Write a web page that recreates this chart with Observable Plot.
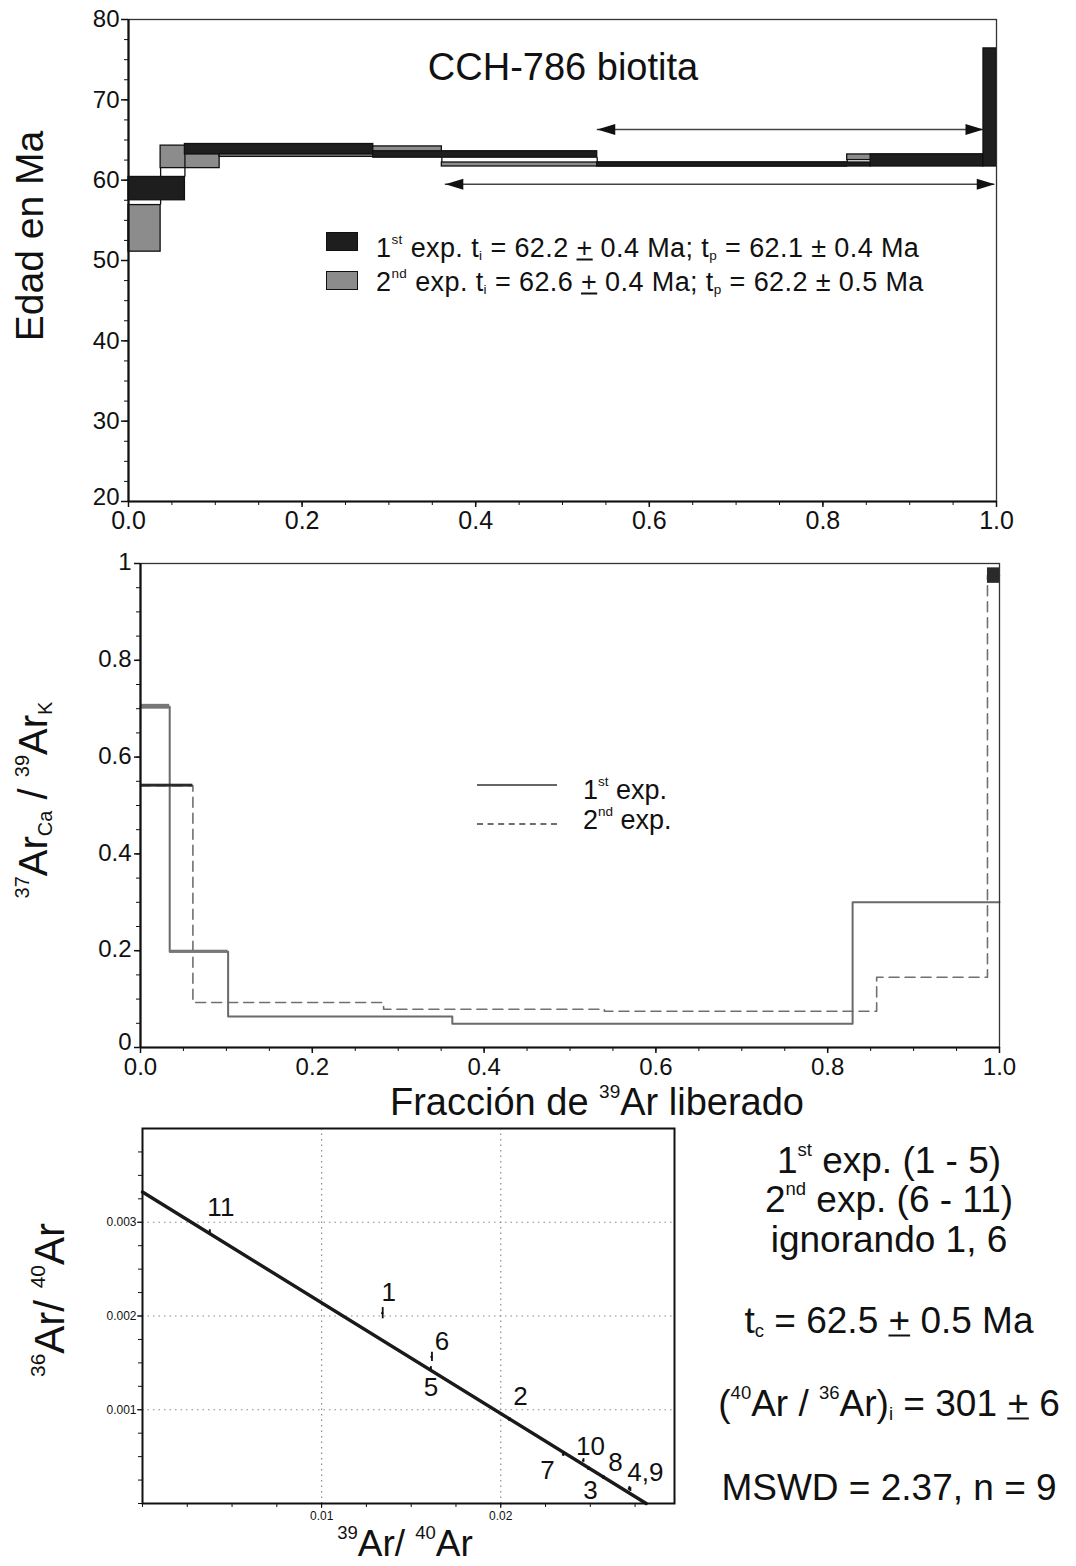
<!DOCTYPE html>
<html>
<head>
<meta charset="utf-8">
<script src="https://cdn.jsdelivr.net/npm/d3@7"></script>
<script src="https://cdn.jsdelivr.net/npm/@observablehq/plot@0.6"></script>
<style>
  html, body { margin: 0; padding: 0; background: #fff; }
  #page { position: relative; width: 1076px; height: 1566px; overflow: hidden;
          font-family: 'Liberation Sans', Arial, Helvetica, sans-serif; color: #111; }
  .abs { position: absolute; white-space: nowrap; line-height: 1; }
  .abs sup { font-size: 0.5em; vertical-align: 0.9em; line-height: 0; }
  .abs sub { font-size: 0.5em; vertical-align: -0.25em; line-height: 0; }
  .abs u { text-decoration-thickness: 2px; text-underline-offset: 2px; }
</style>
</head>
<body>
<div id="page"></div>
<script>
// ===================== DATA =====================
// Age spectrum, 1st experiment (black boxes): step start / end fraction, 2-sigma age range (Ma)
const ageExp1X0 = [0.000, 0.065, 0.282, 0.540, 0.855, 0.985];
const ageExp1X1 = [0.065, 0.282, 0.540, 0.855, 0.985, 1.000];
const ageExp1Lo = [57.5, 63.2, 62.8, 61.7, 61.7, 61.7];
const ageExp1Hi = [60.4, 64.5, 63.6, 62.2, 63.2, 76.4];
// Age spectrum, 2nd experiment (grey boxes)
const ageExp2X0 = [0.000, 0.037, 0.105, 0.361, 0.828];
const ageExp2X1 = [0.037, 0.105, 0.361, 0.828, 1.000];
const ageExp2Lo = [51.1, 61.5, 62.9, 61.7, 62.5];
const ageExp2Hi = [56.9, 64.3, 64.2, 62.2, 63.2];
// Plateau arrows (fraction range, age level)
const plateauX1 = [0.540, 0.365];
const plateauX2 = [0.985, 0.998];
const plateauAge = [66.3, 59.5];

// 37ArCa/39ArK spectra: step start fractions, value, error (steps end at next start / 1.0)
const caExp1X = [0.000, 0.034, 0.102, 0.363, 0.829];
const caExp1V = [0.704, 0.198, 0.064, 0.049, 0.300];
const caExp1E = [0.005, 0.003, 0.001, 0.001, 0.001];
const caExp2X = [0.000, 0.061, 0.283, 0.540, 0.857, 0.986];
const caExp2V = [0.541, 0.093, 0.079, 0.075, 0.145, 0.975];
const caExp2E = [0.003, 0.001, 0.001, 0.001, 0.001, 0.016];

// Inverse isochron points (39Ar/40Ar, 36Ar/40Ar)
const isoStep  = [1, 2, 3, 4, 5, 6, 7, 8, 9, 10, 11];
const isoX     = [0.01341, 0.02049, 0.02490, 0.02724, 0.01610, 0.01616, 0.02350, 0.02574, 0.02718, 0.02462, 0.00376];
const isoY     = [0.002030, 0.000896, 0.000373, 0.000149, 0.001440, 0.001564, 0.000523, 0.000277, 0.000160, 0.000459, 0.002900];
const isoXErr  = [0.00006, 0.00006, 0.00006, 0.00006, 0.00006, 0.00006, 0.00006, 0.00006, 0.00006, 0.00006, 0.00006];
const isoYErr  = [0.00006, 0.00002, 0.00002, 0.00002, 0.00002, 0.00005, 0.00002, 0.00002, 0.00002, 0.00002, 0.00002];
const isoLabel = ["1", "2", "3", "4,9", "5", "6", "7", "8", "", "10", "11"];
const isoLabelDx = [6, 11, 2, 15, 0, 10, -16, 12, 0, 7, 11];
const isoLabelDy = [-21, -23, 22, -17, 19, -15, 16, -15, 0, -14, -24];
// Fit: (40Ar/36Ar)i = 301 -> y intercept 1/301 ; x intercept (39Ar/40Ar)
const isoRatioInitial = 301;
const isoXIntercept = 0.02812;

// Tick labels
const ageTicksY = [30, 40, 50, 60, 70, 80];
const ageTickYMin = [20];
const fracTicks = [0.0, 0.2, 0.4, 0.6, 0.8, 1.0];
const caTicksY = [0.2, 0.4, 0.6, 0.8, 1];
const caTickYMin = [0];
const isoTicksX = [0.01, 0.02];
const isoTicksY = [0.001, 0.002, 0.003];

// Text
const sampleTitle = "CCH-786 biotita";
const ageLegend = [
  "1<sup>st</sup> exp. t<sub>i</sub> = 62.2 <u>+</u> 0.4 Ma; t<sub>p</sub> = 62.1 ± 0.4 Ma",
  "2<sup>nd</sup> exp. t<sub>i</sub> = 62.6 <u>+</u> 0.4 Ma; t<sub>p</sub> = 62.2 ± 0.5 Ma"
];
const caLegend = ["1<sup>st</sup> exp.", "2<sup>nd</sup> exp."];
const statsLines = [
  "1<sup>st</sup> exp. (1 - 5)",
  "2<sup>nd</sup> exp. (6 - 11)",
  "ignorando 1, 6",
  "t<sub>c</sub> = 62.5 <u>+</u> 0.5 Ma",
  "(<sup>40</sup>Ar / <sup>36</sup>Ar)<sub>i</sub> = 301 <u>+</u> 6",
  "MSWD = 2.37, n = 9"
];

// ===================== BUILD =====================
const FONT = "'Liberation Sans', Arial, Helvetica, sans-serif";
const page = document.getElementById("page");
const baseStyle = {fontFamily: FONT, fontSize: "23px", color: "#111", background: "transparent", overflow: "visible"};

function addPlot(svg, top) {
  svg.style.position = "absolute";
  svg.style.left = "0px";
  svg.style.top = top + "px";
  page.appendChild(svg);
}
function addText(html, x, y, size, opts = {}) {
  const d = document.createElement("div");
  d.className = "abs";
  d.innerHTML = html;
  d.style.left = x + "px";
  d.style.top = y + "px";
  d.style.fontSize = size + "px";
  if (opts.spacing) d.style.letterSpacing = opts.spacing + "px";
  const tx = opts.anchor === "start" ? "0" : "-50%";
  d.style.transform = `translate(${tx},-50%)` + (opts.rotate ? ` rotate(${opts.rotate}deg)` : "");
  page.appendChild(d);
  return d;
}
function addBox(x, y, w, h, css) {
  const d = document.createElement("div");
  d.style.position = "absolute";
  d.style.left = x + "px"; d.style.top = y + "px";
  d.style.width = w + "px"; d.style.height = h + "px";
  Object.assign(d.style, css);
  page.appendChild(d);
}

const rects = (x0, x1, lo, hi) => x0.map((a, i) => ({x0: a, x1: x1[i], lo: lo[i], hi: hi[i]}));
function gapConnectors(rs) {
  const out = [];
  for (let i = 0; i < rs.length - 1; i++) {
    const a = rs[i], b = rs[i + 1];
    if (a.hi < b.lo) out.push({x: a.x1, y1: a.hi, y2: b.lo});
    else if (b.hi < a.lo) out.push({x: a.x1, y1: b.hi, y2: a.lo});
  }
  return out;
}
const age1 = rects(ageExp1X0, ageExp1X1, ageExp1Lo, ageExp1Hi);
const age2 = rects(ageExp2X0, ageExp2X1, ageExp2Lo, ageExp2Hi);
const arrows = plateauX1.map((a, i) => ({x1: a, x2: plateauX2[i], age: plateauAge[i]}));
const headRight = {draw(ctx) { ctx.moveTo(0, 0); ctx.lineTo(-18, -5.5); ctx.lineTo(-18, 5.5); ctx.closePath(); }};
const headLeft  = {draw(ctx) { ctx.moveTo(0, 0); ctx.lineTo(18, -5.5); ctx.lineTo(18, 5.5); ctx.closePath(); }};

// ---------- Panel 1: age spectrum ----------
const p1 = Plot.plot({
  width: 1076, height: 545,
  marginLeft: 128, marginRight: 80, marginTop: 19, marginBottom: 44,
  x: {domain: [0, 1]},
  y: {domain: [20, 80]},
  style: baseStyle,
  marks: [
    Plot.rect(age2, {x1: "x0", x2: "x1", y1: "lo", y2: "hi", fill: "#8c8c8c", stroke: "#111", strokeWidth: 1.3}),
    Plot.ruleX(gapConnectors(age2), {x: "x", y1: "y1", y2: "y2", stroke: "#111", strokeWidth: 1.3}),
    Plot.rect(age1, {x1: "x0", x2: "x1", y1: "lo", y2: "hi", fill: "#1e1e1e", stroke: "#111", strokeWidth: 1.3}),
    Plot.ruleX(gapConnectors(age1), {x: "x", y1: "y1", y2: "y2", stroke: "#111", strokeWidth: 1.3}),
    Plot.ruleY(arrows, {y: "age", x1: "x1", x2: "x2", stroke: "#444", strokeWidth: 1.5}),
    Plot.dot(arrows, {x: "x1", y: "age", symbol: headLeft, fill: "#111", stroke: "none"}),
    Plot.dot(arrows, {x: "x2", y: "age", symbol: headRight, fill: "#111", stroke: "none"}),
    Plot.frame({stroke: "#333", strokeWidth: 1.3}),
    Plot.ruleX([0], {stroke: "#111", strokeWidth: 2.2}),
    Plot.ruleY([20], {stroke: "#111", strokeWidth: 2.2}),
    Plot.axisY({ticks: ageTicksY, tickSize: 0, tickPadding: 9, fontSize: 24, label: null}),
    Plot.axisY({ticks: ageTickYMin, tickSize: 0, tickPadding: 9, fontSize: 24, dy: -4, label: null}),
    Plot.axisY({ticks: ageTicksY.concat(ageTickYMin), tickSize: 7, tickFormat: () => "", label: null, strokeWidth: 1.5}),
    Plot.axisY({ticks: d3.range(20, 80.01, 2.5), tickSize: 4, tickFormat: () => "", label: null}),
    Plot.axisX({ticks: fracTicks, tickFormat: d3.format(".1f"), tickSize: 6, tickPadding: 4, fontSize: 25, label: null, strokeWidth: 1.5}),
    Plot.axisX({ticks: d3.range(0, 1.001, 0.05), tickSize: 4, tickFormat: () => "", label: null})
  ]
});
addPlot(p1, 0);

// ---------- Panel 2: Ca/K ----------
const stepPts = (xs, vs) => xs.map((x, i) => ({x, v: vs[i]})).concat([{x: 1.0, v: vs[vs.length - 1]}]);
const stepRects = (xs, vs, es) => xs.map((x, i) => ({x0: x, x1: i < xs.length - 1 ? xs[i + 1] : 1.0, lo: vs[i] - es[i], hi: vs[i] + es[i], e: es[i]}))
  .filter(d => d.e >= 0.003);   // only errors wide enough to show as a band
const caFmt = d => (d === 0 || d === 1) ? String(d) : d3.format(".1f")(d);
const p2 = Plot.plot({
  width: 1076, height: 560,
  marginLeft: 140, marginRight: 77, marginTop: 18, marginBottom: 58,
  x: {domain: [0, 1]},
  y: {domain: [0, 1]},
  style: baseStyle,
  marks: [
    Plot.line(stepPts(caExp2X, caExp2V), {x: "x", y: "v", curve: "step-after", stroke: "#707070", strokeWidth: 1.6, strokeDasharray: "10,6"}),
    Plot.line(stepPts(caExp1X, caExp1V), {x: "x", y: "v", curve: "step-after", stroke: "#6a6a6a", strokeWidth: 2}),
    Plot.rect(stepRects(caExp1X, caExp1V, caExp1E), {x1: "x0", x2: "x1", y1: "lo", y2: "hi", fill: "#777"}),
    Plot.rect(stepRects(caExp2X, caExp2V, caExp2E), {x1: "x0", x2: "x1", y1: "lo", y2: "hi", fill: "#2a2a2a"}),
    Plot.frame({stroke: "#333", strokeWidth: 1.3}),
    Plot.ruleX([0], {stroke: "#111", strokeWidth: 2.2}),
    Plot.ruleY([0], {stroke: "#111", strokeWidth: 2.2}),
    Plot.axisY({ticks: caTicksY, tickFormat: caFmt, tickSize: 0, tickPadding: 9, fontSize: 24, dy: -1, label: null}),
    Plot.axisY({ticks: caTickYMin, tickFormat: caFmt, tickSize: 0, tickPadding: 9, fontSize: 24, dy: -5, label: null}),
    Plot.axisY({ticks: caTicksY.concat(caTickYMin), tickSize: 6, tickFormat: () => "", label: null, strokeWidth: 1.5}),
    Plot.axisY({ticks: d3.range(0, 1.001, 0.05), tickSize: 4, tickFormat: () => "", label: null}),
    Plot.axisX({ticks: fracTicks, tickFormat: d3.format(".1f"), tickSize: 6, tickPadding: 4, fontSize: 24, label: null, strokeWidth: 1.5}),
    Plot.axisX({ticks: d3.range(0, 1.001, 0.05), tickSize: 4, tickFormat: () => "", label: null})
  ]
});
addPlot(p2, 545);

// ---------- Panel 3: inverse isochron ----------
const isoPts = isoStep.map((s, i) => ({s, x: isoX[i], y: isoY[i], ex: isoXErr[i], ey: isoYErr[i],
  label: isoLabel[i], dx: isoLabelDx[i], dy: isoLabelDy[i]}));
const isoFit = [{x: 0, y: 1 / isoRatioInitial}, {x: isoXIntercept, y: 0}];
const p3 = Plot.plot({
  width: 1076, height: 461,
  marginLeft: 142, marginRight: 402, marginTop: 23, marginBottom: 63,
  x: {domain: [0, 0.0297]},
  y: {domain: [0, 0.004]},
  style: baseStyle,
  marks: [
    Plot.ruleX(isoTicksX, {stroke: "#8a8a8a", strokeWidth: 1.2, strokeDasharray: "1.5,4"}),
    Plot.ruleY(isoTicksY, {stroke: "#8a8a8a", strokeWidth: 1.2, strokeDasharray: "1.5,4"}),
    Plot.line(isoFit, {x: "x", y: "y", stroke: "#1a1a1a", strokeWidth: 3.4}),
    Plot.ruleX(isoPts, {x: "x", y1: d => d.y - d.ey, y2: d => d.y + d.ey, stroke: "#111", strokeWidth: 1.8}),
    Plot.ruleY(isoPts, {y: "y", x1: d => d.x - d.ex, x2: d => d.x + d.ex, stroke: "#111", strokeWidth: 1.8}),
    ...isoPts.filter(d => d.label).map(d =>
      Plot.text([d], {x: "x", y: "y", text: "label", dx: d.dx, dy: d.dy, fontSize: 26, fill: "#111"})),
    Plot.frame({stroke: "#111", strokeWidth: 2}),
    Plot.axisY({ticks: isoTicksY, tickFormat: d3.format(".3f"), tickSize: 5, tickPadding: 1, fontSize: 12, label: null}),
    Plot.axisY({ticks: d3.range(0, 0.004, 0.00025), tickSize: 4, tickFormat: () => "", label: null}),
    Plot.axisX({ticks: isoTicksX, tickFormat: d3.format(".2f"), tickSize: 5, tickPadding: 3, fontSize: 12, label: null}),
    Plot.axisX({ticks: d3.range(0, 0.0297, 0.0025), tickSize: 4, tickFormat: () => "", label: null})
  ]
});
addPlot(p3, 1105);

// ---------- Texts / legends ----------
addText(sampleTitle, 563, 67, 38);
addText("Edad en Ma", 29, 236, 39, {rotate: -90});
addBox(326, 232, 32, 19, {background: "#1e1e1e", border: "1px solid #111", boxSizing: "border-box"});
addBox(326, 271, 32, 19, {background: "#8c8c8c", border: "1.5px solid #111", boxSizing: "border-box"});
addText(ageLegend[0], 376, 248, 27, {anchor: "start", spacing: 0.4});
addText(ageLegend[1], 376, 282, 27, {anchor: "start", spacing: 0.4});

addText("<sup>37</sup>Ar<sub>Ca</sub> / <sup>39</sup>Ar<sub>K</sub>", 33, 800, 40, {rotate: -90});
addBox(477, 784, 80, 0, {borderTop: "2px solid #666"});
addBox(477, 823, 80, 0, {borderTop: "2px dashed #6e6e6e"});
addText(caLegend[0], 583, 790, 27, {anchor: "start"});
addText(caLegend[1], 583, 820, 27, {anchor: "start"});
addText("Fracción de <sup>39</sup>Ar liberado", 597, 1102, 38);

addText("<sup>36</sup>Ar/ <sup>40</sup>Ar", 50, 1300, 42, {rotate: -90});
addText("<sup>39</sup>Ar/ <sup>40</sup>Ar", 405, 1543, 37);

const statsY = [1160, 1199, 1239, 1320, 1403, 1487];
statsLines.forEach((s, i) => addText(s, 889, statsY[i], 37));
</script>
</body>
</html>
